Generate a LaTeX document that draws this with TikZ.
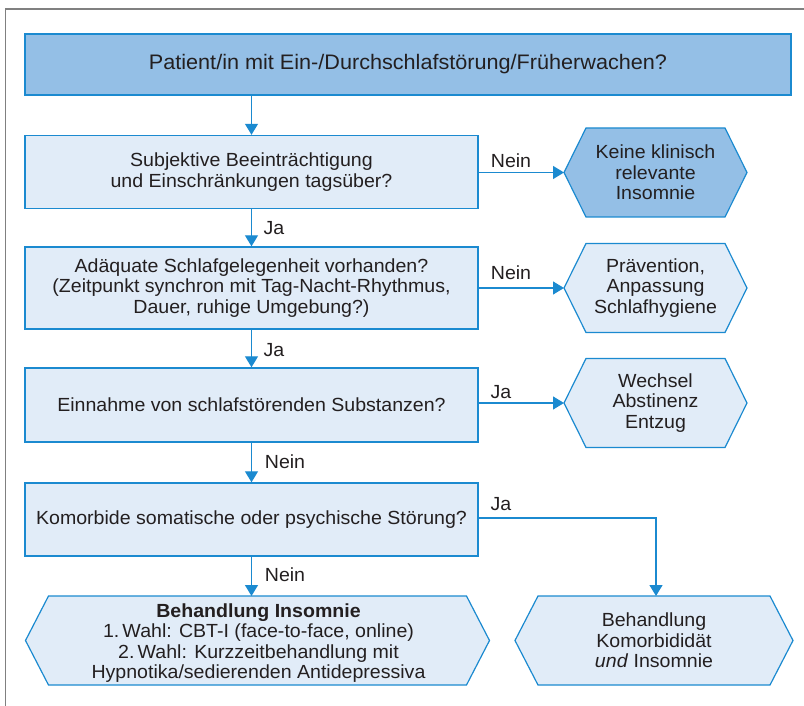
\documentclass[tikz,border=0pt]{standalone}
\usepackage{fontspec}
\setmainfont{Liberation Sans}[FakeStretch=1.03]
\usetikzlibrary{arrows.meta}
\definecolor{bordblue}{HTML}{1B8AD0}
\definecolor{darkfill}{HTML}{94BFE6}
\definecolor{lightfill}{HTML}{E1ECF8}
\definecolor{txtcol}{HTML}{231F20}
\definecolor{framegray}{HTML}{808080}
\tikzset{
  base/.style={font=\fontsize{19}{20.5}\selectfont, text=txtcol, align=center},
  qbox/.style={base, draw=bordblue, line width=1.4pt, fill=lightfill, inner sep=0pt, minimum width=453pt},
  topbox/.style={qbox, fill=darkfill, minimum width=766pt, minimum height=61pt, font=\fontsize{21}{23}\selectfont},
  hexlight/.style={draw=bordblue, line width=1.2pt, fill=lightfill, line join=miter},
  hexdark/.style={draw=bordblue, line width=1.2pt, fill=darkfill, line join=miter},
  htxt/.style={base, inner sep=0pt},
  lbl/.style={base, inner sep=0pt},
  arr/.style={draw=bordblue, line width=1.3pt, -{Triangle[length=11pt,width=13pt]}},
  conn/.style={draw=bordblue, line width=1.3pt},
}
\newcommand{\hexshape}[7]{% style, cx, cy, half top width, tip, half height, name
  \path[#1] ({#2-#4-#5},#3) coordinate (#7w) -- ({#2-#4},{#3-#6}) -- ({#2+#4},{#3-#6})
     -- ({#2+#4+#5},#3) coordinate (#7e) -- ({#2+#4},{#3+#6}) -- ({#2-#4},{#3+#6}) -- cycle;
}
\begin{document}
\begin{tikzpicture}[x=1pt,y=-1pt]
\useasboundingbox (0,0) rectangle (804,706);
% frame
\draw[framegray, line width=1.5pt] (5.5,706) -- (5.5,9) -- (804,9);

% boxes
\node[topbox] (b1) at (408,64.5) {Patient/in mit Ein-/Durchschlafstörung/Früherwachen?};
\node[qbox, minimum height=73pt] (b2) at (251.5,172) {Subjektive Beeinträchtigung\\und Einschränkungen tagsüber?};
\node[qbox, minimum height=82pt] (b3) at (251.5,288) {Adäquate Schlafgelegenheit vorhanden?\\(Zeitpunkt synchron mit Tag-Nacht-Rhythmus,\\Dauer, ruhige Umgebung?)};
\node[qbox, minimum height=74pt] (b4) at (251.5,405) {Einnahme von schlafstörenden Substanzen?};
\node[qbox, minimum height=73pt] (b5) at (251.5,519.5) {Komorbide somatische oder psychische Störung?};

% hexagons
\hexshape{hexdark}{655.5}{172.5}{69.5}{22}{44.5}{h1}
\node[htxt] (t1) at (655.5,172.5) {Keine klinisch\\relevante\\Insomnie};
\hexshape{hexlight}{655.5}{288}{69.5}{22}{44.5}{h2}
\node[htxt] (t2) at (655.5,288) {Prävention,\\Anpassung\\Schlafhygiene};
\hexshape{hexlight}{655.5}{403}{69.5}{22}{44.5}{h3}
\node[htxt] (t3) at (655.5,403) {Wechsel\\Abstinenz\\Entzug};
\hexshape{hexlight}{257.5}{640.5}{209}{23}{44.5}{h4}
\node[htxt] (t4) at (258.5,643) {\textbf{Behandlung Insomnie}\\1.\,Wahl: CBT-I (face-to-face, online)\\2.\,Wahl: Kurzzeitbehandlung mit\\Hypnotika/sedierenden Antidepressiva};
\hexshape{hexlight}{654}{640.5}{116}{23}{44.5}{h5}
\node[htxt] (t5) at (654,640.5) {Behandlung\\Komorbididät\\\textit{und} Insomnie};

% vertical arrows
\draw[arr] (b2.north |- b1.south) -- (b2.north);
\draw[arr] (b2.south) -- (b3.north);
\draw[arr] (b3.south) -- (b4.north);
\draw[arr] (b4.south) -- (b5.north);
\draw[arr] (b5.south) -- (b5.south |- 0,596);

% horizontal arrows
\draw[arr] (b2.east |- h1w) -- (h1w);
\draw[arr] (b3.east |- h2w) -- (h2w);
\draw[arr] (b4.east |- h3w) -- (h3w);
\coordinate (h5top) at (656,596);
\draw[arr] (b5.east |- 0,518) -| (h5top);

% labels
\node[lbl] (l1) at (511,161) {Nein};
\node[lbl] (l2) at (274,228) {Ja};
\node[lbl] (l3) at (511,273) {Nein};
\node[lbl] (l4) at (274,350) {Ja};
\node[lbl] (l5) at (501,392) {Ja};
\node[lbl] (l6) at (285,462) {Nein};
\node[lbl] (l7) at (501,504) {Ja};
\node[lbl] (l8) at (285,575) {Nein};
\end{tikzpicture}
\end{document}
